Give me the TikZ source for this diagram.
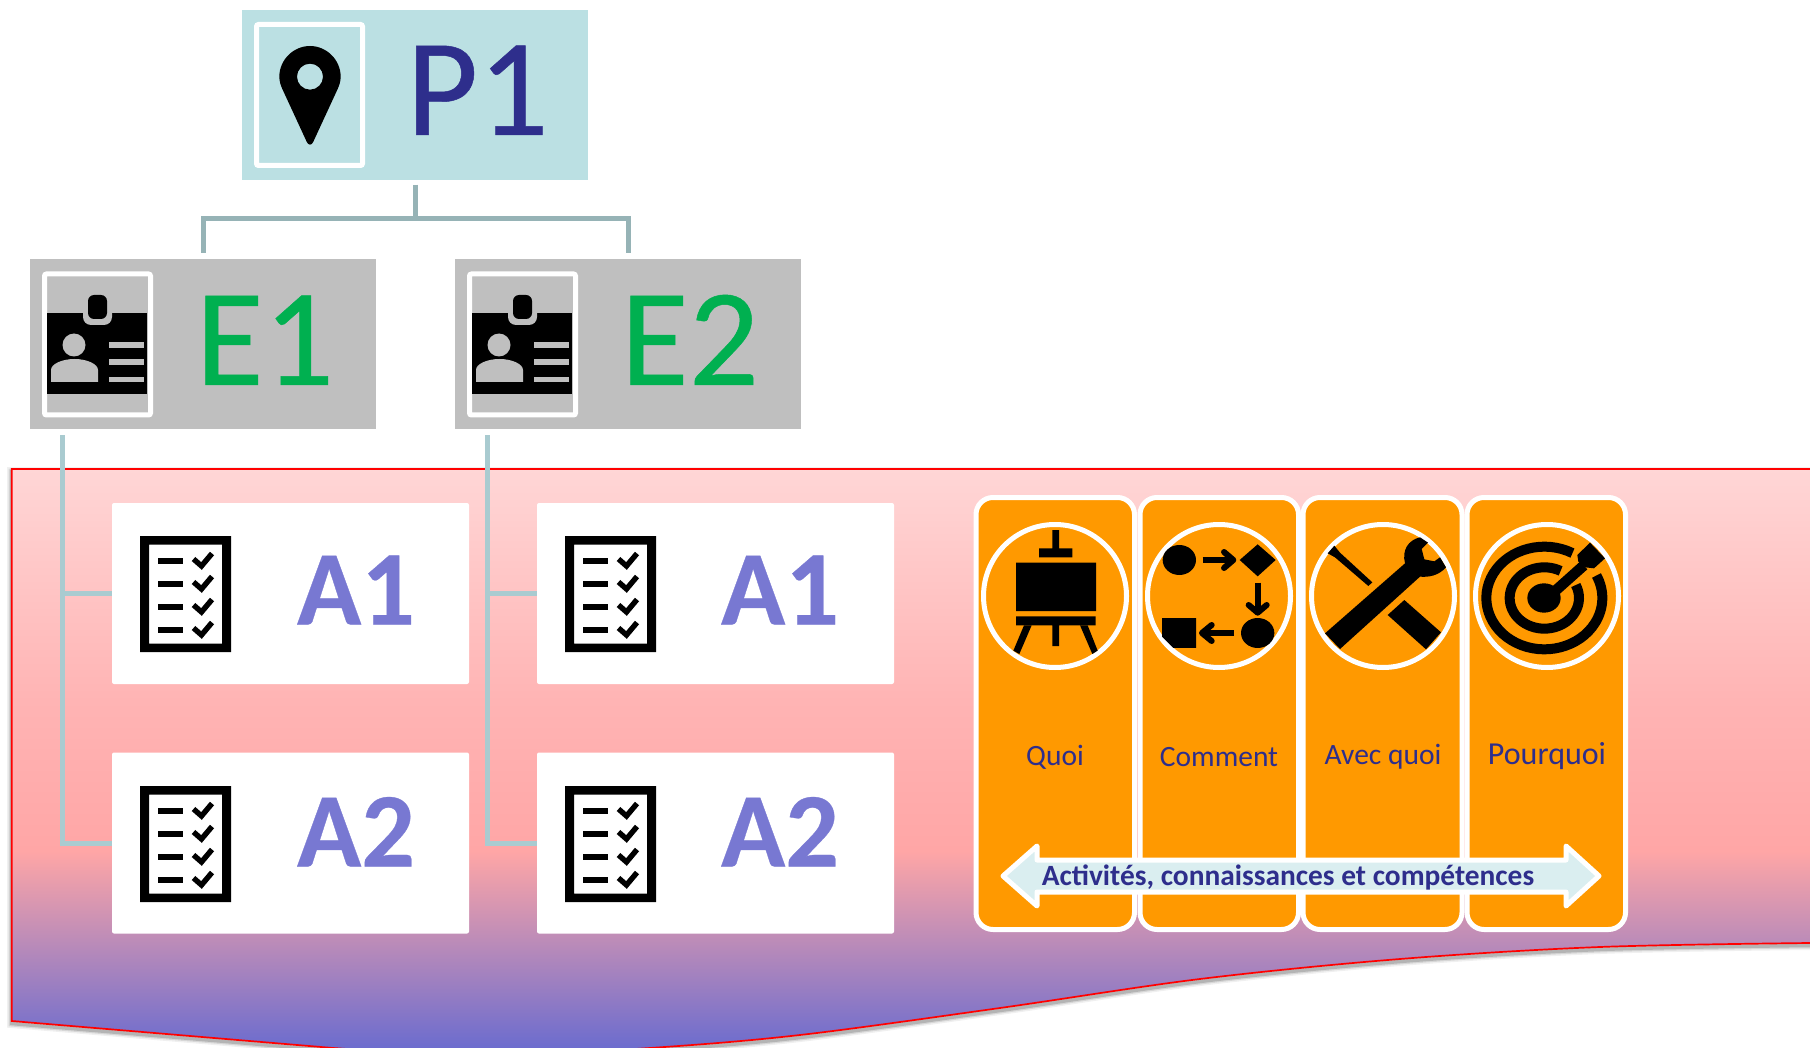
\documentclass[tikz,border=0pt]{standalone}
\usepackage{fontspec}
\usetikzlibrary{calc}
\setmainfont{Carlito}
\definecolor{navy}{HTML}{2E2E8C}
\definecolor{pfill}{HTML}{BBE0E3}
\definecolor{efill}{HTML}{BFBFBF}
\definecolor{egreen}{HTML}{00B050}
\definecolor{alila}{HTML}{7878D2}
\definecolor{connA}{HTML}{96B3B6}
\definecolor{connB}{HTML}{A9CBD0}
\definecolor{ora}{HTML}{FF9900}
\definecolor{arrowfill}{HTML}{DAEEF0}
\definecolor{shA}{HTML}{6C6CCE}
\definecolor{shB}{HTML}{FFA6A6}
\definecolor{shC}{HTML}{FFB4B4}
\definecolor{shD}{HTML}{FFD6D6}
\pgfdeclareverticalshading{bgshade}{100bp}{
 color(0bp)=(shA);
 color(25bp)=(shA);
 color(42bp)=(shB);
 color(55bp)=(shC);
 color(75bp)=(shD);
 color(100bp)=(shD)}
\tikzset{
 base/.style={inner sep=0pt,outer sep=0pt},
 pbox/.style={base,fill=pfill,minimum width=346pt,minimum height=170pt},
 ebox/.style={base,fill=efill,minimum width=346pt,minimum height=170pt},
 abox/.style={base,fill=white,rounded corners=2pt,minimum width=357pt,minimum height=181pt},
 frame/.style={base,draw=white,line width=5pt,rounded corners=2pt,minimum width=106pt,minimum height=141pt},
 panel/.style={base,draw=white,fill=ora,line width=5pt,rounded corners=17pt,minimum height=432pt},
 ring/.style={base,circle,draw=white,line width=5pt,minimum size=143pt},
 big/.style={base,anchor=base,font=\fontsize{139}{139}\selectfont\addfontfeature{FakeBold=.35}},
 atxt/.style={base,anchor=base,text=alila,font=\fontsize{106}{106}\selectfont\bfseries\addfontfeature{FakeBold=.3}},
 lab/.style={base,text=navy,font=\fontsize{29.5}{29.5}\selectfont},
 connP/.style={draw=connA,line width=5pt},
 connE/.style={draw=connB,line width=5pt},
}
\newcommand{\idicon}[1]{%
 \begin{scope}[shift={(#1,0)}]
  \fill[black] (47,313) rectangle (147,394);
  \fill[efill,rounded corners=8pt] (83,300) rectangle (112,325);
  \fill[black,rounded corners=6pt] (88,295) rectangle (107,319);
  \fill[efill] (74,345) circle (11.5);
  \fill[efill] (51,382) -- (51,370) .. controls (51,364) and (62,359) .. (74.5,359) .. controls (87,359) and (98,364) .. (98,370) -- (98,382) -- cycle;
  \fill[efill] (109,342) rectangle (144,348);
  \fill[efill] (109,359) rectangle (144,365);
  \fill[efill] (109,377) rectangle (144,382.5);
 \end{scope}}
\newcommand{\listicon}[2]{%
 \begin{scope}[shift={(#1,#2)}]
  \fill[black,even odd rule] (140,536) rectangle (231,652) (149,544.5) rectangle (222,643.5);
  \foreach \d in {0,23,46,69}{
   \fill[black] (158,558+\d) rectangle (183,564+\d);
   \draw[black,line width=5.4pt] (193.5,559+\d) -- (201.5,566+\d) -- (212,553.5+\d);
  }
 \end{scope}}
\begin{document}
\begin{tikzpicture}[x=1pt,y=-1pt]
\clip (0,0) rectangle (1810,1048);
\fill[white] (0,0) rectangle (1810,1048);
% background shape
\def\bgpath{(11.7,469) -- (1830,469) -- (1830,943) -- (1810,943)
  -- plot[smooth,tension=.55] coordinates {(1810,943) (1600,947) (1400,959) (1200,979) (1000,1008) (800,1035) (650,1048) (490,1056) (333,1048)}
  -- (11.7,1021) -- cycle}
\foreach \w/\o in {9/.06,6/.1,3.5/.16}{
 \draw[black,opacity=\o,line width=\w pt,shift={(0,2.5)}] \bgpath;}
\begin{scope}
 \clip \bgpath;
 \shade[shading=bgshade] (0,469) rectangle (1830,1048);
\end{scope}
\draw[red,line width=1.7pt,line join=miter] \bgpath;
% boxes
\node[pbox] (p1) at (415,95) {};
\node[ebox] (e1) at (203,344) {};
\node[ebox] (e2) at (628,344) {};
\node[abox] (a11) at (290.5,593.5) {};
\node[abox] (a12) at (290.5,843) {};
\node[abox] (a21) at (715.5,593.5) {};
\node[abox] (a22) at (715.5,843) {};
% connectors
\draw[connP] ([yshift=-5pt]p1.south) -- ++(0,34) -| ([yshift=6pt]e1.north);
\draw[connP] ([yshift=-5pt]p1.south) -- ++(0,34) -| ([yshift=6pt]e2.north);
\draw[connE] ([shift={(32pt,-6pt)}]e1.south west) |- (a11.west);
\draw[connE] ([shift={(32pt,-6pt)}]e1.south west) |- (a12.west);
\draw[connE] ([shift={(32pt,-6pt)}]e2.south west) |- (a21.west);
\draw[connE] ([shift={(32pt,-6pt)}]e2.south west) |- (a22.west);
% frames
\node[frame] (fp) at (309.5,95) {};
\node[frame] (fe1) at (97.5,344.5) {};
\node[frame] (fe2) at (522.5,344.5) {};
% pin
\begin{scope}[shift={(230,0)},x=.33333pt,y=-.33333pt]
 \fill[black,even odd rule] (240,138) .. controls (290,138) and (332,180) .. (332,230) .. controls (332,245) and (328,255) .. (323,267) -- (250,425) .. controls (245,437) and (235,437) .. (230,425) -- (157,267) .. controls (152,255) and (148,245) .. (148,230) .. controls (148,180) and (190,138) .. (240,138) -- cycle (240,230) circle (39);
\end{scope}
\idicon{0}\idicon{425}
\listicon{0}{0}\listicon{0}{250}\listicon{425}{0}\listicon{425}{250}
% texts
\node[big,text=navy] (tp) at (477.5,135) {P1};
\node[big,text=egreen] (te1) at (265,385) {E1};
\node[big,text=egreen] (te2) at (690,385) {E2};
\node[atxt] (ta11) at (356,624.5) {A1};
\node[atxt] (ta12) at (356,866.5) {A2};
\node[atxt] (ta21) at (780,624.5) {A1};
\node[atxt] (ta22) at (780,866.5) {A2};
% orange panels
\node[panel,minimum width=158.5pt] (q1) at (1055.25,713.5) {};
\node[panel,minimum width=158.5pt] (q2) at (1219.25,713.5) {};
\node[panel,minimum width=159pt] (q3) at (1382.5,713.5) {};
\node[panel,minimum width=158.5pt] (q4) at (1546.25,713.5) {};
\node[ring] (r1) at (1055,596) {};
\node[ring] (r2) at (1219,596) {};
\node[ring] (r3) at (1383,596) {};
\node[ring] (r4) at (1547,596) {};
% easel
\begin{scope}[shift={(960,480)},x=.33333pt,y=-.33333pt]
 \fill[black] (277,150) rectangle (297,205) (237,205) rectangle (337,232) (168,248) rectangle (408,393) (168,409) rectangle (407,436) (277,436) rectangle (297,498);
 \fill[black] (192,436) -- (215,436) -- (178,522) -- (160,512) -- cycle;
 \fill[black] (360,436) -- (383,436) -- (413,512) -- (397,522) -- cycle;
 % flow
 \fill[black] (658,240) ellipse [x radius=50,y radius=45];
 \fill[black] (893,193) -- (947,240) -- (893,289) -- (839,240) -- cycle;
 \fill[black] (893,459) ellipse [x radius=50,y radius=45];
 \fill[black] (606,414) -- (708,414) -- (708,504) -- (640,504) -- (606,470) -- cycle;
 \draw[black,line width=6pt] (728,240) -- (815,240);
 \draw[black,line width=6pt,line cap=round,line join=round] (792,216) -- (820,240) -- (792,264);
 \draw[black,line width=6pt] (893,308) -- (893,390);
 \draw[black,line width=6pt,line cap=round,line join=round] (866,375) -- (893,398) -- (920,375);
 \draw[black,line width=6pt] (822,459) -- (730,459);
 \draw[black,line width=6pt,line cap=round,line join=round] (755,435) -- (726,459) -- (755,483);
\end{scope}
% tools and target
\begin{scope}[shift={(1290,480)},x=.33333pt,y=-.33333pt]
 \fill[black] (105,460) -- (345,250) .. controls (335,210) and (355,180) .. (390,172) -- (414,188) -- (395,207) -- (403,238) -- (433,244) -- (450,232) -- (468,262) .. controls (445,288) and (415,292) .. (390,290) -- (150,507) -- cycle;
 \fill[black] (113,220) -- (133,197) -- (150,218) -- (247,307) -- (235,318) -- (135,232) -- cycle;
 \fill[black] (343,360) -- (453,457) -- (408,508) -- (293,405) -- cycle;
 \draw[black,line width=10pt] ($(763,354)+(-61:174 and 154)$) arc [start angle=-61,end angle=-386,x radius=174,y radius=154];
 \draw[black,line width=10pt] ($(763,354)+(-62:104 and 92)$) arc [start angle=-62,end angle=-385,x radius=104,y radius=92];
 \fill[black] (762,354) ellipse [x radius=50,y radius=44];
 \fill[black] (775,330) -- (870,245) -- (892,268) -- (800,350) -- cycle;
 \fill[black] (862,225) -- (900,188) -- (945,235) -- (912,265) -- (885,262) -- (865,245) -- cycle;
\end{scope}
% labels
\node[lab] (l1) at (1055,757) {Quoi};
\node[lab] (l2) at (1219,757) {Comment};
\node[lab] (l3) at (1383,757) {Avec quoi};
\node[lab,font=\fontsize{32}{32}\selectfont] (l4) at (1547,756) {Pourquoi};
% arrow
\draw[white,fill=arrowfill,line width=5pt,line join=round] (1003,876) -- (1037,846) -- (1037,860) -- (1566,860) -- (1566,846) -- (1599,876) -- (1566,906) -- (1566,892) -- (1037,892) -- (1037,906) -- cycle;
\node[base,text=navy,font=\fontsize{29.4}{29.4}\selectfont\bfseries] (lb) at (1288,877) {Activités, connaissances et compétences};
\end{tikzpicture}
\end{document}
